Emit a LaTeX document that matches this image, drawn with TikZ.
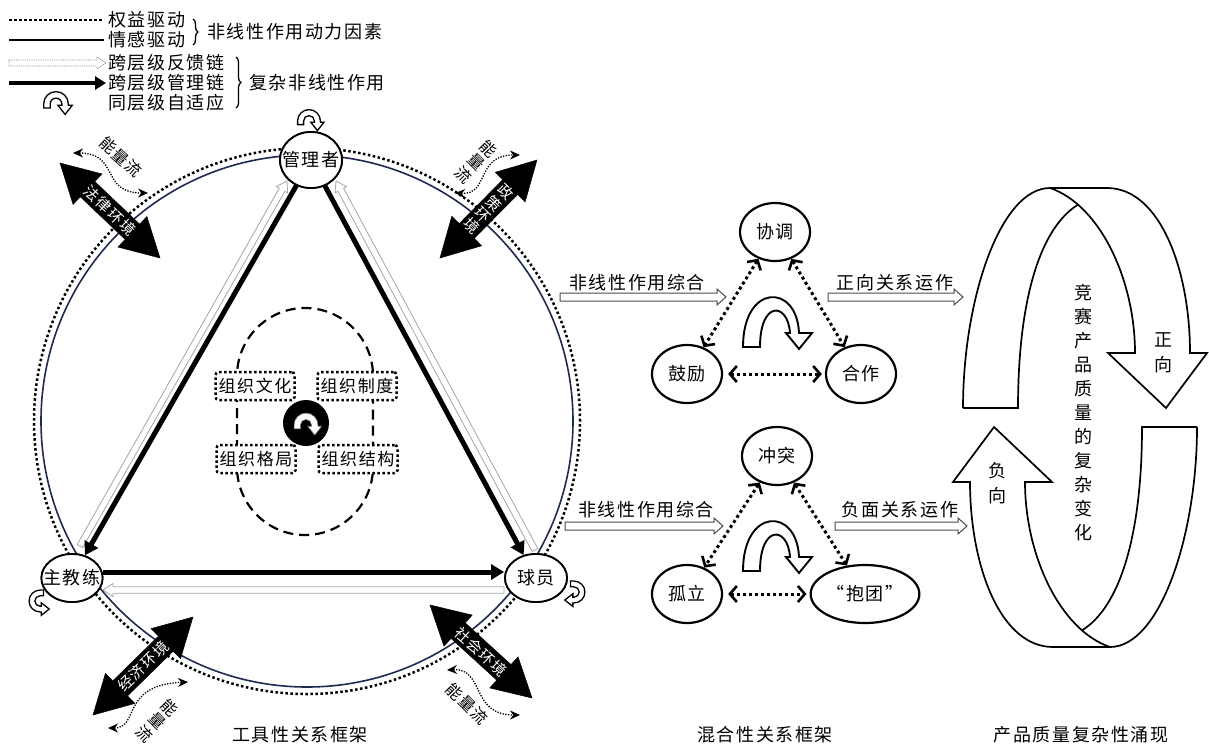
\documentclass[tikz,border=0pt]{standalone}
\usepackage{fontspec}
\setmainfont{Noto Sans CJK SC}[LetterSpace=9]
\usetikzlibrary{arrows.meta,shapes.geometric,decorations.pathreplacing,calc}
\definecolor{navy}{HTML}{1F2A50}
\newdimen\HAxa \newdimen\HAya \newdimen\HAxb \newdimen\HAyb
\newcommand{\fsz}[1]{\fontsize{#1}{#1}\selectfont}
\newcommand{\getdir}[2]{%
 \pgfextractx{\HAxa}{\pgfpointanchor{#1}{center}}%
 \pgfextracty{\HAya}{\pgfpointanchor{#1}{center}}%
 \pgfextractx{\HAxb}{\pgfpointanchor{#2}{center}}%
 \pgfextracty{\HAyb}{\pgfpointanchor{#2}{center}}%
 \pgfmathsetmacro{\HAang}{atan2(\HAyb-\HAya,\HAxb-\HAxa)}%
 \pgfmathsetmacro{\HAlen}{veclen(\HAxb-\HAxa,\HAyb-\HAya)}}
% hollow (single) arrow: [style]{start}{end}{shaft half width}{head length}{head half width}
\newcommand{\hollowarr}[6][]{%
 \getdir{#2}{#3}%
 \begin{scope}[shift={(\HAxa,\HAya)},rotate=\HAang]
  \draw[#1] (0,-#4) -- ({\HAlen-#5},-#4) -- ({\HAlen-#5},-#6) -- (\HAlen,0) -- ({\HAlen-#5},#6) -- ({\HAlen-#5},#4) -- (0,#4) -- cycle;
 \end{scope}}
% double headed arrow
\newcommand{\dblarr}[6][]{%
 \getdir{#2}{#3}%
 \begin{scope}[shift={(\HAxa,\HAya)},rotate=\HAang]
  \path[#1] (0,0) -- (#5,#6) -- (#5,#4) -- ({\HAlen-#5},#4) -- ({\HAlen-#5},#6) -- (\HAlen,0) -- ({\HAlen-#5},-#6) -- ({\HAlen-#5},-#4) -- (#5,-#4) -- (#5,-#6) -- cycle;
 \end{scope}}
\tikzset{
 uturn/.pic={\begin{scope}[x=1pt,y=1pt]
  \path[pic actions] (-9.5,-3) -- (-9.5,0) arc[start angle=180,end angle=0,radius=9.5] -- (9.5,-1) -- (12.5,-1) -- (7,-8) -- (1.5,-1) -- (4.5,-1) -- (4.5,0) arc[start angle=0,end angle=180,radius=4.5] -- (-4.5,-3) -- cycle;
  \end{scope}},
 txt/.style={inner sep=0pt, font=\fsz{18}},
 dotline/.style={line width=2.5pt, dash pattern=on 2.5pt off 2.5pt},
 mgmt/.style={line width=5pt, -{Triangle[length=13pt,width=15pt]}},
 fb/.style={draw=gray!70, line width=0.8pt, fill=white},
 flowarr/.style={draw=gray!60!black, line width=1pt, fill=white},
 envarr/.style={fill=black, draw=black, line width=0.5pt},
 envtxt/.style={text=white, font=\fsz{15}, inner sep=0pt},
 vtxt/.style={inner sep=0pt, align=center},
 roundnode/.style={ellipse, draw, line width=1.8pt, fill=white, inner sep=-7pt, font=\fsz{18}},
 relnode/.style={ellipse, draw, line width=2.2pt, fill=white, minimum width=70pt, minimum height=58pt, inner sep=0pt, font=\fsz{18}},
 orgbox/.style={draw, dotline, rounded corners=3pt, fill=white, minimum width=79pt, minimum height=28pt, inner sep=0pt, font=\fsz{17}},
 dotarr/.style={line width=3pt, dash pattern=on 3pt off 3pt, {Straight Barb[length=7pt,width=16pt,line width=2.6pt]}-{Straight Barb[length=7pt,width=16pt,line width=2.6pt]}},
 wavearr/.style={line width=1.3pt, dash pattern=on 1.3pt off 1.4pt, {Stealth[length=10pt,width=9pt]}-{Stealth[length=10pt,width=9pt]}},
 cyc/.style={line width=1.7pt},
 bracedeco/.style={decorate, decoration={brace, amplitude=5pt}, line width=1.3pt},
 loopic/.style={draw, fill=white, line width=1.3pt}
}
\begin{document}
\begin{tikzpicture}[x=1pt,y=-1pt]
\useasboundingbox[fill=white] (0,0) rectangle (1209,745);

% ---------------- legend ----------------
\draw[dotline] (9,20) -- (104,20);
\draw[line width=2.8pt] (9,40) -- (104,40);
\coordinate (lfa) at (9,63); \coordinate (lfb) at (106,63);
\hollowarr[fb, densely dotted, draw=gray]{lfa}{lfb}{3}{9}{6}
\coordinate (lma) at (9,83); \coordinate (lmb) at (106,83);
\draw[line width=4.5pt, -{Triangle[length=11pt,width=13pt]}] (lma) -- (lmb);
\pic[loopic, scale=1.3] at (56,104) {uturn};
\node[txt, anchor=west] (lt1) at (108,20) {权益驱动};
\node[txt, anchor=west] (lt2) at (108,40) {情感驱动};
\node[txt, anchor=west] (lt3) at (108,63) {跨层级反馈链};
\node[txt, anchor=west] (lt4) at (108,83) {跨层级管理链};
\node[txt, anchor=west] (lt5) at (108,103) {同层级自适应};
\draw[bracedeco] (193,19) -- (193,45);
\node[txt, anchor=west] (lt6) at (207,32) {非线性作用动力因素};
\draw[bracedeco] (236,57) -- (236,108);
\node[txt, anchor=west] (lt7) at (249,83) {复杂非线性作用};

% ---------------- left framework ----------------
\draw[navy, line width=1.6pt] (307,421) circle[radius=266pt];
\draw[dotline] (307,421) circle[radius=273pt];

% environment arrows
\coordinate (eTLa) at (60,163);  \coordinate (eTLb) at (160,258);
\coordinate (eTRa) at (440,258); \coordinate (eTRb) at (537,160);
\coordinate (eBLa) at (93,715);  \coordinate (eBLb) at (193,617);
\coordinate (eBRa) at (430,605); \coordinate (eBRb) at (532,698);
\dblarr[envarr]{eTLa}{eTLb}{10.5}{38}{21}
\dblarr[envarr]{eTRa}{eTRb}{10.5}{38}{21}
\dblarr[envarr]{eBLa}{eBLb}{10.5}{38}{21}
\dblarr[envarr]{eBRa}{eBRb}{10.5}{38}{21}
\node[envtxt, rotate=-43.5] (tTL) at (110,210.5) {法律环境};
\node[envtxt, vtxt, rotate=-45, font=\fontsize{15}{16}\selectfont] (tTR) at (488.5,209) {政\\策\\环\\境};
\node[envtxt, rotate=44.4] (tBL) at (143,666) {经济环境};
\node[envtxt, rotate=-42.4] (tBR) at (481,651.5) {社会环境};

% energy flows
\coordinate (wTLa) at (73,153);  \coordinate (wTLb) at (148,193);
\coordinate (wTRa) at (455,193); \coordinate (wTRb) at (520,155);
\coordinate (wBLa) at (108,728); \coordinate (wBLb) at (188,682);
\coordinate (wBRa) at (447,670); \coordinate (wBRb) at (520,715);
\draw[wavearr] (wTLa) .. controls (120,153) and (100,193) .. (wTLb);
\draw[wavearr] (wTRa) .. controls (490,195) and (475,155) .. (wTRb);
\draw[wavearr] (wBLa) .. controls (140,728) and (120,685) .. (wBLb);
\draw[wavearr] (wBRa) .. controls (485,668) and (470,715) .. (wBRb);
\node[txt, font=\fsz{16}, rotate=-42] (nTL) at (121,157) {能量流};
\node[txt, vtxt, rotate=-45, font=\fontsize{16}{18}\selectfont] (nTR) at (476,162) {能\\量\\流};
\node[txt, vtxt, rotate=-45, font=\fontsize{16}{18}\selectfont] (nBL) at (157,721) {能\\量\\流};
\node[txt, font=\fsz{16}, rotate=-45] (nBR) at (467,704) {能量流};

% triangle
\node[roundnode, minimum width=62pt, minimum height=56pt] (glz) at (311,160) {管理者};
\node[roundnode, minimum width=61pt, minimum height=48pt] (zjl) at (72,578) {主教练};
\node[roundnode, minimum width=62pt, minimum height=48pt] (qy) at (536,578) {球员};

\coordinate (fbL1) at (80,546);  \coordinate (fbL2) at (287,181);
\coordinate (fbR1) at (535,550); \coordinate (fbR2) at (336,181);
\coordinate (fbB1) at (504,590); \coordinate (fbB2) at (103,590);
\hollowarr[fb]{fbL1}{fbL2}{3.2}{10}{6.5}
\hollowarr[fb]{fbR1}{fbR2}{3.2}{10}{6.5}
\hollowarr[fb]{fbB1}{fbB2}{3.2}{10}{6.5}
\draw[mgmt] (glz) -- (zjl);
\draw[mgmt] (glz) -- (qy);
\draw[mgmt] ([yshift=6pt]zjl.east) -- ([yshift=6pt]qy.west);

% redraw nodes on top
\node[roundnode, minimum width=62pt, minimum height=56pt] at (311,160) {管理者};
\node[roundnode, minimum width=61pt, minimum height=48pt] at (72,578) {主教练};
\node[roundnode, minimum width=62pt, minimum height=48pt] at (536,578) {球员};

% self adaptation loops
\pic[loopic, scale=1.2] at (309,121) {uturn};
\begin{scope}[shift={(40,601)}]
 \pic[loopic, scale=1.15, rotate=-90, yscale=-1] {uturn};
\end{scope}
\begin{scope}[shift={(574,592)}]
 \pic[loopic, scale=1.15, rotate=-90] {uturn};
\end{scope}

% organisation core
\draw[line width=2.2pt, dash pattern=on 10pt off 6pt, rounded corners=68pt] (237,308) rectangle (373,535);
\node[orgbox] (wh) at (255,386) {组织文化};
\node[orgbox] (zd) at (357,386) {组织制度};
\node[orgbox] (gj) at (256,459) {组织格局};
\node[orgbox] (jg) at (358,459) {组织结构};
\node[circle, fill=black, minimum size=46pt, inner sep=0pt] (core) at (306,423) {};
\pic[draw=gray, fill=white, line width=0.6pt, scale=1.25] at (306,425) {uturn};

\node[txt] (lab1) at (300,735) {工具性关系框架};

% ---------------- middle framework ----------------
\coordinate (f1a) at (560,297); \coordinate (f1b) at (726,297);
\coordinate (f2a) at (828,297); \coordinate (f2b) at (963,297);
\coordinate (f3a) at (565,526); \coordinate (f3b) at (723,526);
\coordinate (f4a) at (835,526); \coordinate (f4b) at (967,526);
\hollowarr[flowarr]{f1a}{f1b}{4}{9}{8}
\hollowarr[flowarr]{f2a}{f2b}{4}{9}{8}
\hollowarr[flowarr]{f3a}{f3b}{4}{9}{8}
\hollowarr[flowarr]{f4a}{f4b}{4}{9}{8}
\node[txt] (f1t) at (637,283) {非线性作用综合};
\node[txt] (f2t) at (895,283) {正向关系运作};
\node[txt] (f3t) at (646,510) {非线性作用综合};
\node[txt] (f4t) at (900,510) {负面关系运作};

\node[relnode] (xt) at (775,232) {协调};
\node[relnode] (gl) at (687,374) {鼓励};
\node[relnode] (hz) at (861,374) {合作};
\node[relnode] (ct) at (777,456) {冲突};
\node[relnode] (gli) at (687,594) {孤立};
\node[relnode] (bt) at (865,594) {“抱团”};
\draw[dotarr] (xt) -- (gl);
\draw[dotarr] (xt) -- (hz);
\draw[dotarr, shorten <=5pt, shorten >=3pt] (gl) -- (hz);
\draw[dotarr] (ct) -- (gli);
\draw[dotarr] (ct) -- (bt);
\draw[dotarr, shorten <=5pt, shorten >=3pt] (gli) -- (bt);
\draw[line width=1.9pt, fill=white] (743,347) .. controls (743,283) and (797,283) .. (799,333) -- (812,333) -- (799,349) -- (786,333) -- (790,333) .. controls (788,302) and (760,300) .. (760,347) -- cycle;
\begin{scope}[shift={(0,224)}]
\draw[line width=1.9pt, fill=white] (743,347) .. controls (743,283) and (797,283) .. (799,333) -- (812,333) -- (799,349) -- (786,333) -- (790,333) .. controls (788,302) and (760,300) .. (760,347) -- cycle;
\end{scope}
\node[txt] (lab2) at (765,735) {混合性关系框架};

% ---------------- right: cycle ----------------
\draw[cyc] (963,408) .. controls (963,300) and (1000,188) .. (1050,188) -- (1107,188) .. controls (1160,188) and (1190,270) .. (1190,353) -- (1207,353) -- (1166,408) -- (1108,353) -- (1135,353) .. controls (1135,280) and (1100,205) .. (1050,188);
\draw[cyc] (963,408) -- (1018,408) .. controls (1018,300) and (1040,228) .. (1078,204.7);
\begin{scope}[rotate around={180:(1080,417.5)}]
\draw[cyc] (963,408) .. controls (963,300) and (1000,188) .. (1050,188) -- (1107,188) .. controls (1160,188) and (1190,270) .. (1190,353) -- (1207,353) -- (1166,408) -- (1108,353) -- (1135,353) .. controls (1135,280) and (1100,205) .. (1050,188);
\draw[cyc] (963,408) -- (1018,408) .. controls (1018,300) and (1040,228) .. (1078,204.7);
\end{scope}
\node[txt, vtxt, font=\fontsize{18}{24}\selectfont] (cxt) at (1083,413) {竞\\赛\\产\\品\\质\\量\\的\\复\\杂\\变\\化};
\node[txt, vtxt, font=\fontsize{18}{25}\selectfont] (zx) at (1163,353) {正\\向};
\node[txt, vtxt, font=\fontsize{18}{25}\selectfont] (fx) at (997,483) {负\\向};
\node[txt] (lab3) at (1081,735) {产品质量复杂性涌现};
\end{tikzpicture}
\end{document}
